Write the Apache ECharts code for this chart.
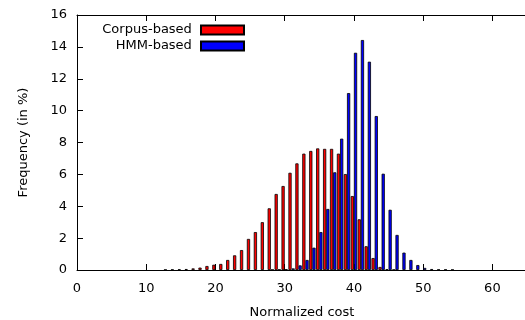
<!DOCTYPE html>
<html>
<head>
<meta charset="utf-8">
<script src="https://cdn.jsdelivr.net/npm/echarts@6/dist/echarts.min.js"></script>
<style>
  html, body { margin: 0; padding: 0; background: #fff; }
  #main { width: 525px; height: 320px; }
</style>
</head>
<body>
<div id="main"></div>
<script>
// normalized cost bins and frequencies (in %)
var corpusBins = [13, 14, 15, 16, 17, 18, 19, 20, 21, 22, 23, 24, 25, 26, 27, 28, 29, 30,
  31, 32, 33, 34, 35, 36, 37, 38, 39, 40, 41, 42, 43, 44, 45, 46];
var corpusFreq = [0.02, 0.03, 0.04, 0.06, 0.1, 0.15, 0.25, 0.33, 0.38, 0.63, 0.92, 1.25, 1.95, 2.38, 3.0, 3.87, 4.77, 5.27,
  6.1, 6.69, 7.3, 7.47, 7.63, 7.6, 7.6, 7.3, 6.02, 4.64, 3.18, 1.49, 0.75, 0.19, 0.05, 0.02];

var hmmBins = [28, 29, 30, 31, 32, 33, 34, 35, 36, 37, 38, 39, 40, 41, 42, 43, 44, 45,
  46, 47, 48, 49, 50, 51, 52, 53, 54];
var hmmFreq = [0.02, 0.03, 0.05, 0.1, 0.29, 0.63, 1.4, 2.38, 3.83, 6.13, 8.24, 11.1, 13.63, 14.43, 13.07, 9.66, 6.04, 3.78,
  2.2, 1.09, 0.63, 0.31, 0.13, 0.06, 0.03, 0.03, 0.02];

var xTicks = [0, 10, 20, 30, 40, 50, 60];
var yTicks = [0, 2, 4, 6, 8, 10, 12, 14, 16];

function pairs(xs, ys) {
  return xs.map(function (x, i) { return [x, ys[i]]; });
}

var chart = echarts.init(document.getElementById('main'));

var font = 'DejaVu Sans';
var option = {
  animation: false,
  textStyle: { fontFamily: font },
  grid: { left: 77, right: -2, top: 15, bottom: 50, containLabel: false, outerBoundsMode: 'none' },
  legend: {
    orient: 'vertical',
    align: 'right',
    icon: 'rect',
    right: 280,
    top: 23,
    padding: 0,
    itemWidth: 43,
    itemHeight: 9,
    itemGap: 2,
    formatter: function (name) { return name + ' '; },
    textStyle: { fontFamily: font, fontSize: 13, color: '#000', lineHeight: 14 }
  },
  xAxis: [
    {
      type: 'value',
      min: 0,
      max: 65,
      interval: 10,
      name: 'Normalized cost',
      nameLocation: 'middle',
      nameGap: 36,
      nameTextStyle: { fontFamily: font, fontSize: 13, color: '#000' },
      axisLine: { lineStyle: { color: '#000', width: 1 } },
      axisTick: { inside: true, length: 6, lineStyle: { color: '#000' } },
      axisLabel: {
        fontFamily: font, fontSize: 13, color: '#000', margin: 12,
        formatter: function (v) { return xTicks.indexOf(v) >= 0 ? String(v) : ''; }
      },
      splitLine: { show: false }
    },
    {
      type: 'value',
      position: 'top',
      min: 0,
      max: 65,
      interval: 10,
      axisLine: { lineStyle: { color: '#000', width: 1 } },
      axisTick: { inside: true, length: 6, lineStyle: { color: '#000' } },
      axisLabel: { show: false },
      splitLine: { show: false }
    }
  ],
  yAxis: {
    type: 'value',
    min: 0,
    max: 16,
    interval: 2,
    name: 'Frequency (in %)',
    nameLocation: 'middle',
    nameGap: 47,
    nameTextStyle: { fontFamily: font, fontSize: 13, color: '#000' },
    axisLine: { show: true, lineStyle: { color: '#000', width: 1 } },
    axisTick: { show: true, inside: true, length: 6, lineStyle: { color: '#000' } },
    axisLabel: {
      fontFamily: font, fontSize: 13, color: '#000', margin: 10,
      formatter: function (v) { return yTicks.indexOf(v) >= 0 ? String(v) : ''; }
    },
    splitLine: { show: false }
  },
  series: [
    {
      name: 'Corpus-based',
      type: 'bar',
      barWidth: 3.2,
      barGap: '0%',
      itemStyle: { color: '#ff0000', borderColor: '#000', borderWidth: 0.8 },
      data: pairs(corpusBins, corpusFreq)
    },
    {
      name: 'HMM-based',
      type: 'bar',
      barWidth: 3.2,
      barGap: '0%',
      itemStyle: { color: '#0000ff', borderColor: '#000', borderWidth: 0.8 },
      data: pairs(hmmBins, hmmFreq)
    }
  ]
};

chart.setOption(option);
</script>
</body>
</html>
